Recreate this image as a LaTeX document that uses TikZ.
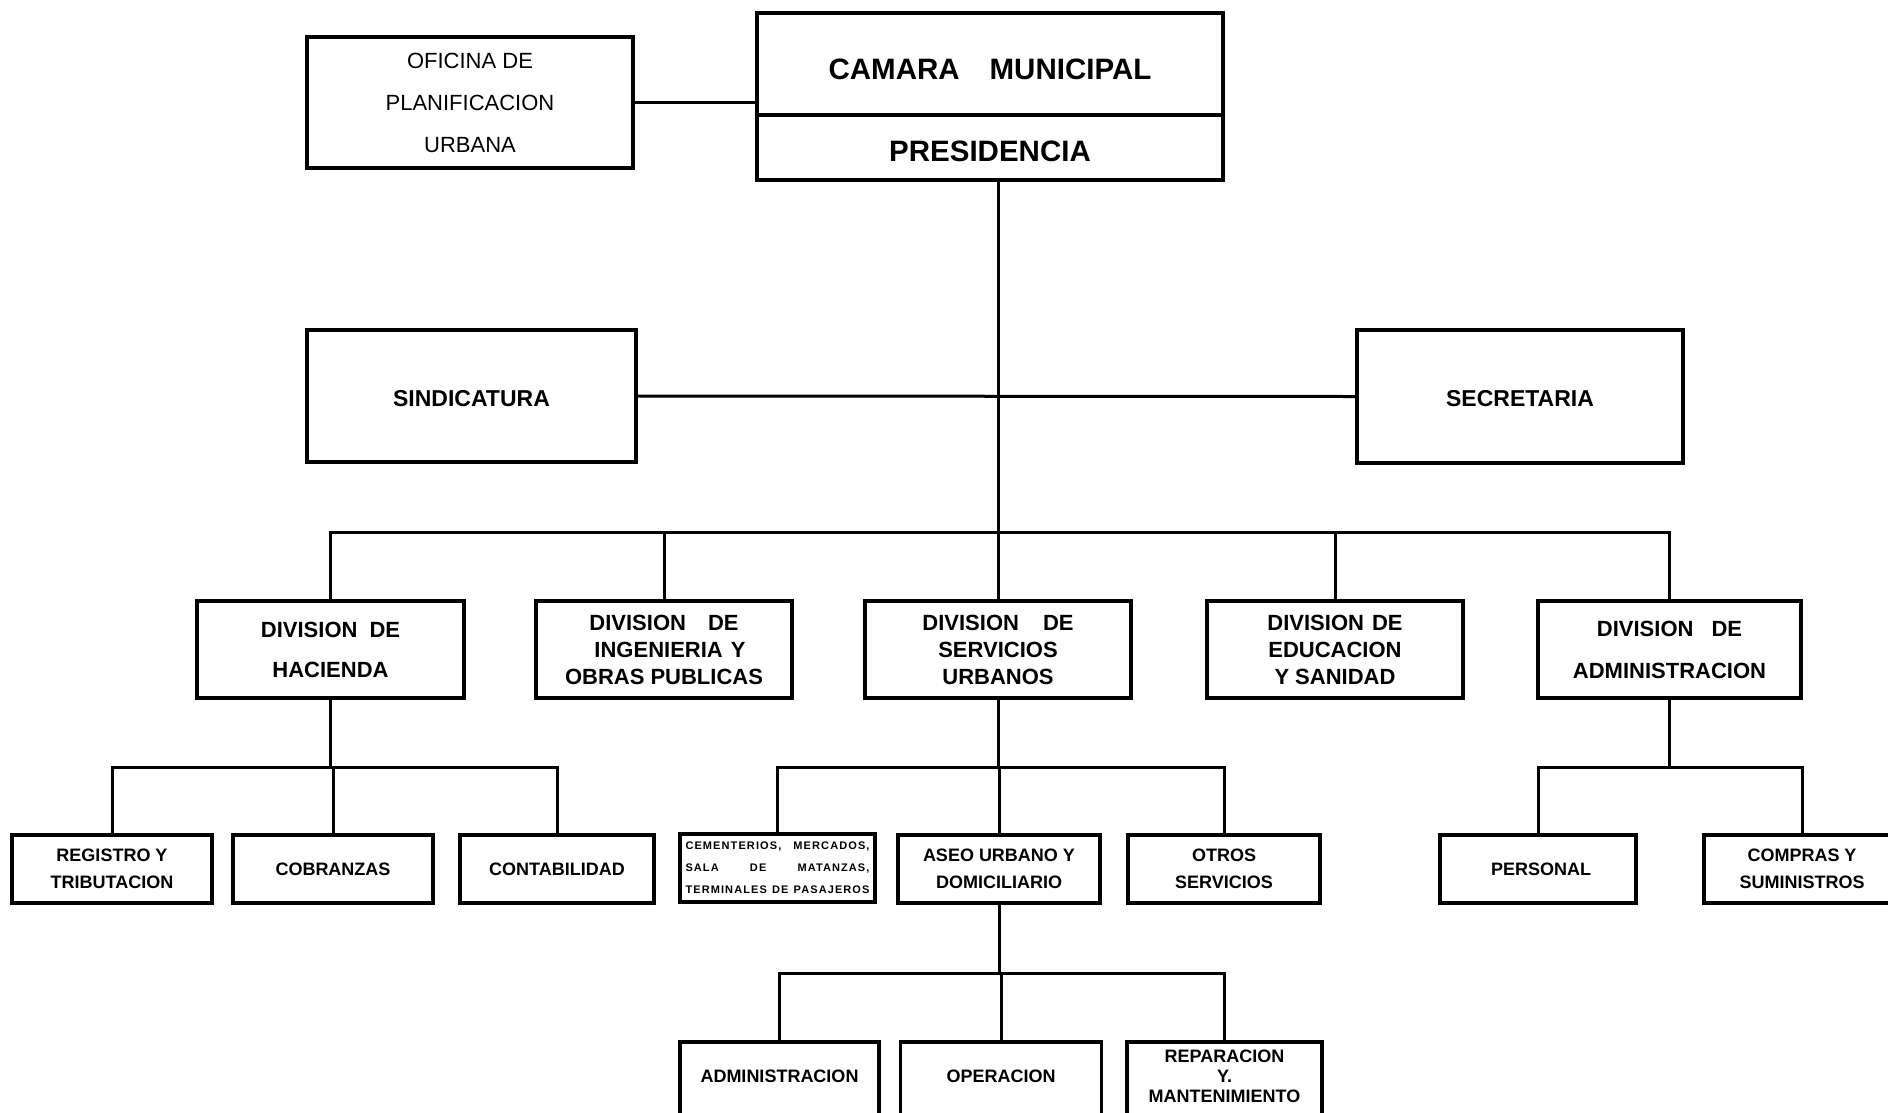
\documentclass[tikz,border=0pt]{standalone}
\usepackage{fontspec}
\setmainfont{Liberation Sans}
\newfontfamily\speckfont[LetterSpace=10]{Liberation Sans}
\begin{document}
\begin{tikzpicture}[x=1pt,y=-1pt,
  box/.style={draw, line width=3.5pt, rectangle, inner sep=0pt, align=center},
  conn/.style={line width=3pt},
  topfont/.style={font=\fontsize{29.5}{32}\selectfont\bfseries},
  ofifont/.style={font=\fontsize{22}{42}\selectfont},
  midfont/.style={font=\fontsize{23}{27}\selectfont\bfseries},
  divfont/.style={font=\fontsize{22}{27}\selectfont\bfseries},
  lowfont/.style={font=\fontsize{18}{27}\selectfont\bfseries},
  l4lab/.style={align=center, inner sep=0pt, font=\fontsize{18}{20}\selectfont\bfseries, yshift=6pt},
  tinyfont/.style={font=\fontsize{11}{22}\speckfont\bfseries}
]
\useasboundingbox (0,0) rectangle (1888,1112);
\clip (0,0) rectangle (1888,1112);
\fill[white] (0,0) rectangle (1888,1112);

% top
\node[box, topfont, minimum width=466, minimum height=102] (cam) at (990,64) {\raisebox{-15pt}[0pt][0pt]{CAMARA\hspace{30pt}MUNICIPAL}};
\node[box, topfont, minimum width=466, minimum height=65] (pres) at (990,147.5) {\raisebox{-13.5pt}[0pt][0pt]{PRESIDENCIA}};
\node[box, ofifont, minimum width=326, minimum height=131] (ofi) at (470,102.5) {OFICINA DE\\PLANIFICACION\\URBANA};

\node[box, midfont, minimum width=329, minimum height=132] (sind) at (471.5,396) {\raisebox{-10.7pt}[0pt][0pt]{SINDICATURA}};
\node[box, midfont, minimum width=326, minimum height=133] (secr) at (1520,396.5) {\raisebox{-10.2pt}[0pt][0pt]{SECRETARIA}};

% divisions
\node[box, divfont, minimum width=267, minimum height=97] (hac) at (330.5,649.5) {DIVISION\hspace{12pt}DE\\[13pt]HACIENDA};
\node[box, divfont, minimum width=256, minimum height=97] (ing) at (664,649.5) {DIVISION\hspace{22pt}DE\\\hspace{12pt}INGENIERIA\hspace{8pt}Y\\OBRAS PUBLICAS};
\node[box, divfont, minimum width=266, minimum height=97] (ser) at (998,649.5) {DIVISION\hspace{24pt}DE\\SERVICIOS\\URBANOS};
\node[box, divfont, minimum width=256, minimum height=97] (edu) at (1335,649.5) {DIVISION\hspace{8pt}DE\\EDUCACION\\Y\hspace{6pt}SANIDAD};
\node[box, divfont, minimum width=263, minimum height=97] (adm) at (1669.5,649.5) {DIVISION\hspace{18pt}DE\\[15pt]ADMINISTRACION};

% level 3
\node[box, lowfont, minimum width=200, minimum height=68] (reg) at (112,869) {REGISTRO Y\\TRIBUTACION};
\node[box, lowfont, minimum width=200, minimum height=68] (cob) at (333,869) {COBRANZAS};
\node[box, lowfont, minimum width=194, minimum height=68] (con) at (557,869) {CONTABILIDAD};
\node[box, tinyfont, minimum width=195, minimum height=68] (cem) at (777.5,868) {\makebox[184pt][s]{CEMENTERIOS, MERCADOS,}\\\makebox[184pt][s]{SALA DE MATANZAS,}\\\makebox[184pt][s]{TERMINALES DE PASAJEROS}};
\node[box, lowfont, minimum width=202, minimum height=68] (ase) at (999,869) {ASEO URBANO Y\\DOMICILIARIO};
\node[box, lowfont, minimum width=192, minimum height=68] (otr) at (1224,869) {OTROS\\SERVICIOS};
\node[box, lowfont, minimum width=196, minimum height=68] (per) at (1538,869) {\hspace{6pt}PERSONAL};
\node[box, lowfont, minimum width=196, minimum height=68] (com) at (1802,869) {COMPRAS Y\\SUMINISTROS};

% level 4
\node[box, minimum width=199, minimum height=80, label={[l4lab]center:ADMINISTRACION}] (adm4) at (779.5,1082) {};
\node[box, minimum width=201, minimum height=80, label={[l4lab]center:OPERACION}] (ope) at (1001,1082) {};
\node[box, minimum width=195, minimum height=80, label={[l4lab]center:{REPARACION\\Y.\\MANTENIMIENTO}}] (rep) at (1224.5,1082) {};

% connectors
\coordinate (bus) at (998,532);
\coordinate (hb) at (331,767);
\coordinate (sb) at (998,767);
\coordinate (ab) at (1669,767);
\coordinate (lb) at (998,973);

\draw[conn] (ofi.east) -- (ofi.east -| cam.west);
\draw[conn] (pres.south -| bus) -- (bus);
\draw[conn] (sind.east) -- (secr.west);
\draw[conn] (hac.north) |- (bus) -| (adm.north);
\draw[conn] (ing.north) -- (ing.north |- bus);
\draw[conn] (ser.north) -- (ser.north |- bus);
\draw[conn] (edu.north) -- (edu.north |- bus);

\draw[conn] (hac.south) -- (hac.south |- hb);
\draw[conn] (reg.north) |- (hb) -| (con.north);
\draw[conn] (cob.north) -- (cob.north |- hb);

\draw[conn] (ser.south) -- (ser.south |- sb);
\draw[conn] (cem.north) |- (sb) -| (otr.north);
\draw[conn] (ase.north) -- (ase.north |- sb);

\draw[conn] (adm.south) -- (adm.south |- ab);
\draw[conn] (per.north) |- (ab) -| (com.north);

\draw[conn] (ase.south) -- (ase.south |- lb);
\draw[conn] (adm4.north) |- (lb) -| (rep.north);
\draw[conn] (ope.north) -- (ope.north |- lb);
\end{tikzpicture}
\end{document}
